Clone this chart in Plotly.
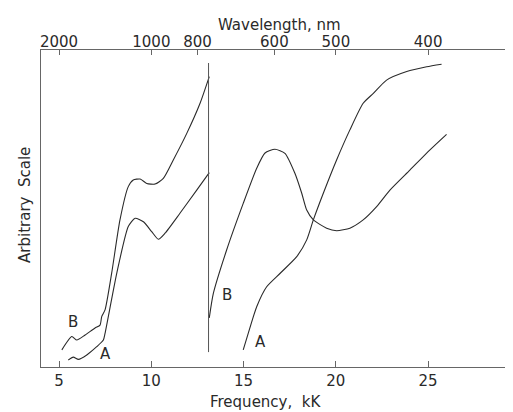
import plotly.graph_objects as go

# near-infrared part (below 13.1 kK)
nir_freq_b = [5.15, 5.69, 5.96, 6.41, 6.95, 7.22, 7.31, 7.49, 7.85, 8.30, 8.75, 9.02, 9.39,
              9.75, 10.20, 10.65, 11.19, 11.92, 12.64, 13.14]
nir_val_b = [5.4, 9.6, 8.5, 10.1, 12.3, 13.2, 15.9, 18.0, 29.6, 46.4, 56.9, 59.0, 59.3,
             57.9, 57.7, 59.5, 65.3, 73.7, 83.2, 91.6]

nir_freq_a = [5.50, 5.77, 6.05, 6.50, 7.04, 7.40, 7.49, 8.13, 8.75, 9.12, 9.57, 10.02,
              10.38, 10.74, 11.55, 12.46, 13.14]
nir_val_a = [2.2, 3.1, 2.4, 3.8, 6.4, 8.5, 10.6, 29.7, 44.3, 46.9, 45.8, 42.7,
             40.3, 42.2, 48.5, 55.8, 61.3]

# visible part (above 13.1 kK)
vis_freq_b = [13.14, 13.36, 14.08, 14.98, 15.71, 16.16, 16.70, 17.24, 17.78, 18.15, 18.42,
              18.78, 19.50, 20.04, 20.76, 21.48, 22.21, 22.93, 24.01, 25.10, 26.00]
vis_val_b = [15.5, 23.2, 36.9, 51.6, 62.7, 67.5, 68.7, 67.4, 61.1, 54.8, 49.5,
             46.4, 43.8, 43.0, 43.8, 46.4, 50.6, 55.8, 62.1, 68.5, 73.4]

vis_freq_a = [14.98, 15.25, 15.71, 16.25, 16.97, 17.88, 18.42, 18.78, 19.32, 20.04, 20.76,
              21.48, 22.03, 22.75, 23.84, 24.92, 25.73]
vis_val_a = [5.4, 10.6, 19.0, 25.3, 29.5, 34.8, 40.1, 46.4, 54.8, 65.3, 74.8,
             83.2, 86.3, 90.5, 93.2, 94.7, 95.5]

# detector change-over
split_freq = [13.1, 13.1]
split_val = [4.7, 95.9]

freq_ticks = [5, 10, 15, 20, 25]
wavelength_ticks = [2000, 1000, 800, 600, 500, 400]

labels = [("B", 5.77, 14.3), ("A", 7.49, 4.2), ("B", 14.08, 22.7), ("A", 15.89, 8.0)]

ink = "#2a2a2a"
axis_col = "#666666"
font_fam = "DejaVu Sans"
x_range = [4.02, 29.6]

fig = go.Figure()

for xs, ys in [(nir_freq_b, nir_val_b), (nir_freq_a, nir_val_a),
               (vis_freq_b, vis_val_b), (vis_freq_a, vis_val_a)]:
    fig.add_trace(go.Scatter(x=xs, y=ys, mode="lines",
                             line=dict(color=ink, width=1.1, shape="spline", smoothing=0.6),
                             hoverinfo="skip"))

fig.add_trace(go.Scatter(x=split_freq, y=split_val, mode="lines",
                         line=dict(color="#555555", width=1), hoverinfo="skip"))

# invisible trace to activate the top (wavelength) axis
fig.add_trace(go.Scatter(x=[10000 / w for w in wavelength_ticks], y=[None] * len(wavelength_ticks),
                         xaxis="x2", mode="markers", hoverinfo="skip"))

for txt, x, y in labels:
    fig.add_annotation(x=x, y=y, text=txt, showarrow=False,
                       font=dict(family=font_fam, size=15, color=ink))

fig.add_annotation(xref="paper", yref="paper", x=0.475, y=-0.11, yanchor="middle",
                   text="Frequency,  kK", showarrow=False,
                   font=dict(family=font_fam, size=15, color=ink))
fig.add_annotation(xref="paper", yref="paper", x=0.506, y=1.08, yanchor="middle",
                   text="Wavelength, nm", showarrow=False,
                   font=dict(family=font_fam, size=15, color=ink))
fig.add_annotation(xref="paper", yref="paper", x=-0.034, y=0.511, xanchor="center",
                   text="Arbitrary  Scale", showarrow=False, textangle=-90,
                   font=dict(family=font_fam, size=15, color=ink))

# the page body adds an 8px offset, so the figure is sized/margined to compensate
fig.update_layout(
    width=505, height=404,
    margin=dict(l=33, r=0, t=42, b=45, autoexpand=False),
    plot_bgcolor="white", paper_bgcolor="white",
    showlegend=False,
    xaxis=dict(range=x_range, tickvals=freq_ticks, ticks="inside", ticklen=6,
               tickcolor=axis_col, showline=True, linecolor=axis_col, linewidth=1,
               showgrid=False, zeroline=False, automargin=False,
               tickfont=dict(family=font_fam, size=15, color=ink)),
    xaxis2=dict(range=x_range, overlaying="x", side="top", anchor="y",
                tickvals=[10000 / w for w in wavelength_ticks],
                ticktext=[str(w) for w in wavelength_ticks],
                ticks="inside", ticklen=5, tickcolor=axis_col, ticklabelstandoff=-4,
                showline=True, linecolor=axis_col, linewidth=1,
                showgrid=False, zeroline=False, automargin=False,
                tickfont=dict(family=font_fam, size=15, color=ink)),
    yaxis=dict(range=[0, 100], showticklabels=False, ticks="", showline=True,
               linecolor=axis_col, linewidth=1, showgrid=False, zeroline=False,
               automargin=False),
)

fig.write_html("out.html")
